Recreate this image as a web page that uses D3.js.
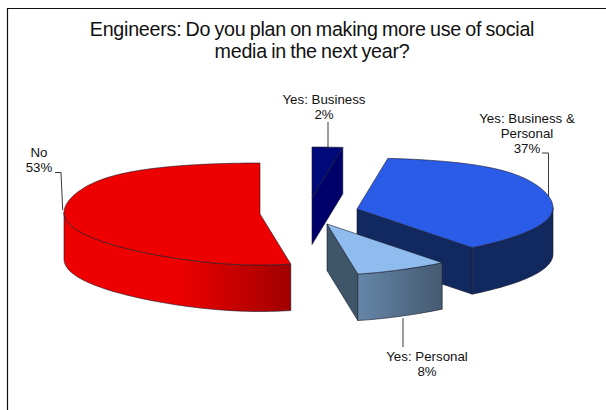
<!DOCTYPE html>
<html>
<head>
<meta charset="utf-8">
<script src="https://cdn.jsdelivr.net/npm/d3@7"></script>
<style>
html,body{margin:0;padding:0;background:#fff}
svg{display:block}
text{font-family:"Liberation Sans",Arial,sans-serif;fill:#111}
</style>
</head>
<body>
<svg id="chart" width="606" height="410"></svg>
<script>
// Survey answers, in clockwise order from twelve o'clock
const categories = ["Yes: Business", "Yes: Business & Personal", "Yes: Personal", "No"];
const shares = [2, 37, 8, 53];
const labelLines = [["Yes: Business", "2%"], ["Yes: Business &", "Personal", "37%"], ["Yes: Personal", "8%"], ["No", "53%"]];
const titleLines = ["Engineers: Do you plan on making more use of social", "media in the next year?"];

// Exploded position of each wedge's apex
const apexX = [312, 357, 327, 260];
const apexY = [198, 209, 224, 214];

const topColors = ["#00097a", "#2b5ce8", "#8fbcee", "#ee0000"];
const cutColors = ["#00006a", "#12295f", "#3f5568", null];
const wallStops = [null, ["#12295f", "#12295f"], ["#6686a8", "#445a70"], ["#ee0000", "#ee0000", "#a00000"]];

const radiusX = 196, radiusY = 51, depth = 46.5;

const svg = d3.select("#chart");
const defs = svg.append("defs");

// Frame around the chart area
svg.append("path").attr("d", "M7.5,410V8.5H606").attr("fill", "none").attr("stroke", "#111").attr("stroke-width", 1.2);

titleLines.forEach((t, i) => svg.append("text")
  .attr("x", 312).attr("y", 36 + i * 21.5).attr("text-anchor", "middle")
  .attr("font-size", 19.7).attr("letter-spacing", -0.25).attr("word-spacing", -1).text(t));

const pie = d3.pie().sort(null).value(d => d);
const arcs = pie(shares);

// Tilted-disc projection: rim positions relative to the wedge's apex
function rim(a) {
  const c = Math.cos(a), s = Math.sin(a);
  const warp = 1 + (c > 0 ? 0.26 : 0.17) * c * c * c;
  return [radiusX * s * warp, -radiusY * c - 1.5 * s * s];
}
function sweep(a0, a1) {
  const n = Math.max(2, Math.ceil((a1 - a0) / 0.03));
  return d3.range(n + 1).map(i => a0 + (a1 - a0) * i / n);
}
const line = d3.line();
const outline = "#1a1a2a";
const styled = sel => sel.attr("stroke", outline).attr("stroke-width", 0.6).attr("stroke-linejoin", "round");

// Draw order runs back to front so nearer wedges overlap the others
[3, 0, 1, 2].forEach(idx => {
  const d = arcs[idx];
  const ax = apexX[idx], ay = apexY[idx];
  const at = a => { const p = rim(a); return [ax + p[0], ay + p[1]]; };
  const pts = sweep(d.startAngle, d.endAngle).map(at);
  const g = svg.append("g");

  // Cut face along the clockwise edge, seen only when it turns towards the viewer
  if (cutColors[idx]) {
    const from = at(d.endAngle);
    styled(g.append("path")
      .attr("d", line([[ax, ay], from, [from[0], from[1] + depth], [ax, ay + depth]]) + "Z")
      .attr("fill", cutColors[idx]));
  }

  // Outer wall: the stretch of rim on the near half of the disc
  if (wallStops[idx]) {
    const lo = Math.max(d.startAngle, Math.PI / 2), hi = Math.min(d.endAngle, Math.PI * 1.5);
    const front = sweep(lo, hi).map(at);
    const xs = d3.extent(front, p => p[0]);
    const id = "wall" + idx;
    const stops = wallStops[idx];
    const grad = defs.append("linearGradient").attr("id", id).attr("gradientUnits", "userSpaceOnUse")
      .attr("x1", xs[0]).attr("x2", xs[1]).attr("y1", 0).attr("y2", 0);
    const offs = idx === 3 ? [0, 0.5, 1] : [0, 1];
    stops.forEach((c, i) => grad.append("stop").attr("offset", offs[i]).attr("stop-color", c));
    const lower = front.slice().reverse().map(p => [p[0], p[1] + depth]);
    styled(g.append("path").attr("d", line(front.concat(lower)) + "Z").attr("fill", `url(#${id})`));
  }

  // Top surface of the wedge
  styled(g.append("path").attr("d", line([[ax, ay]].concat(pts)) + "Z").attr("fill", topColors[idx]));
});

// Leader lines from labels to wedges
const leaders = [
  [[328, 122], [328, 149]],
  [[542, 153], [548.5, 153], [548.5, 196]],
  [[403, 318], [403, 347]],
  [[55, 172.5], [61, 172.5], [62.7, 210]]
];
leaders.forEach(l => svg.append("path").attr("d", line(l)).attr("fill", "none").attr("stroke", "#222").attr("stroke-width", 0.9));

// Category labels with their percentages
const labelX = [324, 527, 427, 39];
const labelY = [104, 122.5, 361, 157];
labelLines.forEach((lines, i) => lines.forEach((t, j) => svg.append("text")
  .attr("x", labelX[i]).attr("y", labelY[i] + j * 15.3).attr("text-anchor", "middle")
  .attr("font-size", 13.3).text(t)));
</script>
</body>
</html>
